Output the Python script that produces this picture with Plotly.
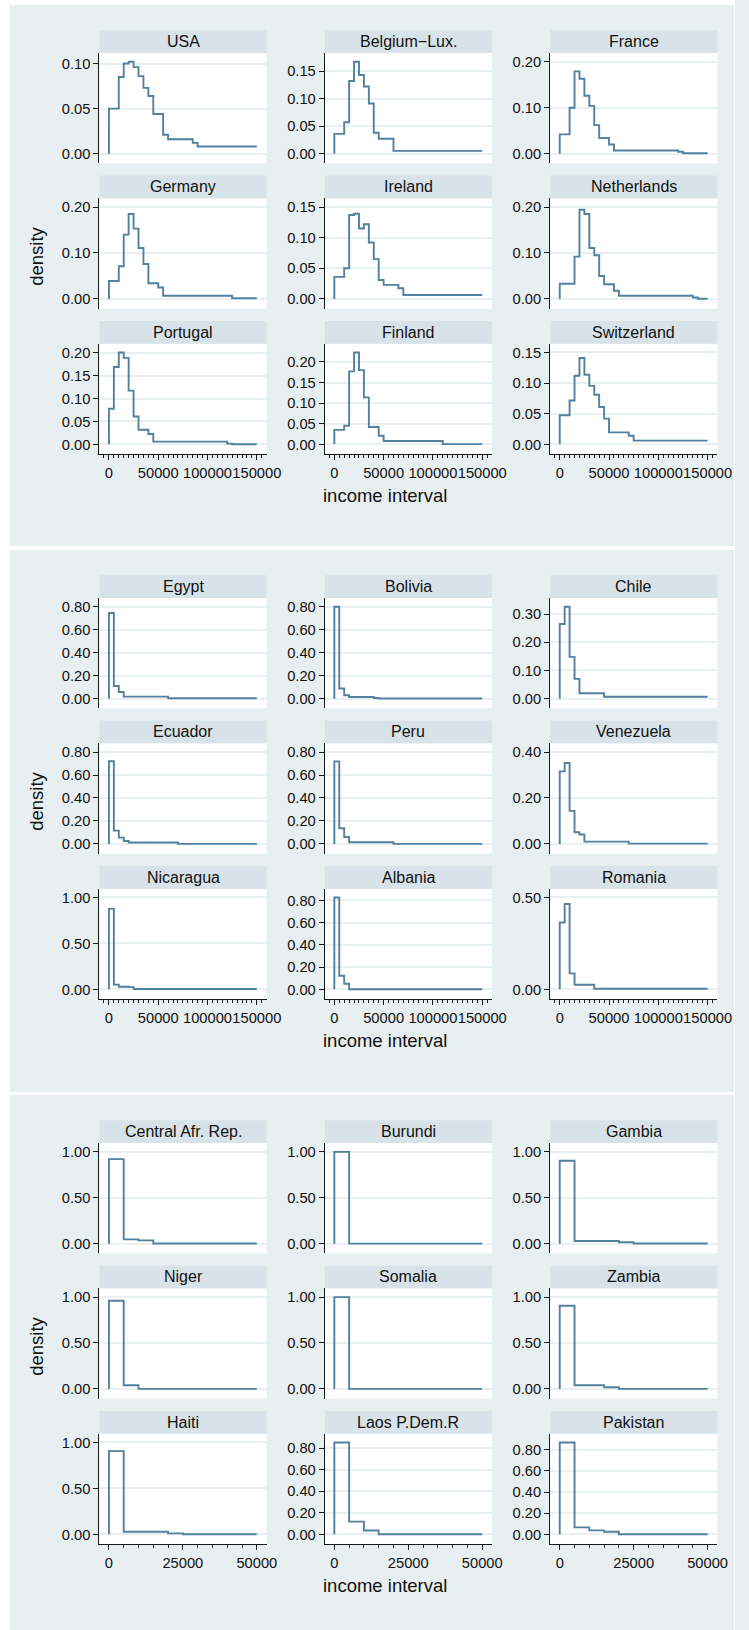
import plotly.graph_objects as go

W, H = 749, 1630

# ---------------- data ----------------
# bin left edges (income interval, width 5000)
edges_wide = [0, 5000, 10000, 15000, 20000, 25000, 30000, 35000, 40000, 45000,
              50000, 55000, 60000, 65000, 70000, 75000, 80000, 85000, 90000, 95000,
              100000, 105000, 110000, 115000, 120000, 125000, 130000, 135000, 140000, 145000]
end_wide = 150000
edges_narrow = [0, 5000, 10000, 15000, 20000, 25000, 30000, 35000, 40000, 45000]
end_narrow = 50000

# Panel 1 (rich countries)
p1_names = ["USA", "Belgium\u2212Lux.", "France", "Germany", "Ireland", "Netherlands",
            "Portugal", "Finland", "Switzerland"]
usa = [0.050, 0.050, 0.085, 0.100, 0.102, 0.096, 0.086, 0.073, 0.064, 0.044, 0.044, 0.021,
       0.016, 0.016, 0.016, 0.016, 0.016, 0.012, 0.008, 0.008, 0.008, 0.008, 0.008, 0.008,
       0.008, 0.008, 0.008, 0.008, 0.008, 0.008]
belgium = [0.036, 0.036, 0.057, 0.132, 0.167, 0.143, 0.122, 0.091, 0.038, 0.027, 0.027, 0.027,
           0.005, 0.005, 0.005, 0.005, 0.005, 0.005, 0.005, 0.005, 0.005, 0.005, 0.005, 0.005,
           0.005, 0.005, 0.005, 0.005, 0.005, 0.005]
france = [0.042, 0.042, 0.100, 0.179, 0.163, 0.126, 0.104, 0.062, 0.034, 0.034, 0.020, 0.007,
          0.007, 0.007, 0.007, 0.007, 0.007, 0.007, 0.007, 0.007, 0.007, 0.007, 0.007, 0.007,
          0.004, 0.001, 0.001, 0.001, 0.001, 0.001]
germany = [0.039, 0.039, 0.071, 0.140, 0.185, 0.153, 0.111, 0.076, 0.034, 0.034, 0.025, 0.007,
           0.007, 0.007, 0.007, 0.007, 0.007, 0.007, 0.007, 0.007, 0.007, 0.007, 0.007, 0.007,
           0.007, 0.0015, 0.0015, 0.0015, 0.0015, 0.0015]
ireland = [0.036, 0.036, 0.050, 0.137, 0.139, 0.115, 0.122, 0.092, 0.065, 0.031, 0.023, 0.023,
           0.023, 0.0175, 0.0065, 0.0065, 0.0065, 0.0065, 0.0065, 0.0065, 0.0065, 0.0065,
           0.0065, 0.0065, 0.0065, 0.0065, 0.0065, 0.0065, 0.0065, 0.0065]
netherlands = [0.033, 0.033, 0.033, 0.092, 0.194, 0.185, 0.111, 0.095, 0.050, 0.032, 0.032,
               0.018, 0.007, 0.007, 0.007, 0.007, 0.007, 0.007, 0.007, 0.007, 0.007, 0.007,
               0.007, 0.007, 0.007, 0.007, 0.007, 0.003, 0.0005, 0.0005]
portugal = [0.078, 0.169, 0.201, 0.189, 0.1175, 0.061, 0.032, 0.032, 0.0226, 0.006, 0.006,
            0.006, 0.006, 0.006, 0.006, 0.006, 0.006, 0.006, 0.006, 0.006, 0.006, 0.006, 0.006,
            0.006, 0.0015, 0.0003, 0.0003, 0.0003, 0.0003, 0.0003]
finland = [0.035, 0.035, 0.045, 0.177, 0.223, 0.180, 0.114, 0.042, 0.042, 0.021, 0.008, 0.008,
           0.008, 0.008, 0.008, 0.008, 0.008, 0.008, 0.008, 0.008, 0.008, 0.008, 0.0005, 0.0005,
           0.0005, 0.0005, 0.0005, 0.0005, 0.0005, 0.0005]
switzerland = [0.0475, 0.0475, 0.0715, 0.112, 0.141, 0.1135, 0.0955, 0.081, 0.061, 0.042,
               0.0196, 0.0196, 0.0196, 0.0196, 0.014, 0.006, 0.006, 0.006, 0.006, 0.006, 0.006,
               0.006, 0.006, 0.006, 0.006, 0.006, 0.006, 0.006, 0.006, 0.006]
p1_values = [usa, belgium, france, germany, ireland, netherlands, portugal, finland, switzerland]
p1_ticks = [[0.00, 0.05, 0.10], [0.00, 0.05, 0.10, 0.15], [0.00, 0.10, 0.20],
            [0.00, 0.10, 0.20], [0.00, 0.05, 0.10, 0.15], [0.00, 0.10, 0.20],
            [0.00, 0.05, 0.10, 0.15, 0.20], [0.00, 0.05, 0.10, 0.15, 0.20],
            [0.00, 0.05, 0.10, 0.15]]

# Panel 2 (middle income)
p2_names = ["Egypt", "Bolivia", "Chile", "Ecuador", "Peru", "Venezuela",
            "Nicaragua", "Albania", "Romania"]
egypt = [0.745, 0.110, 0.058, 0.0175, 0.0175, 0.0175, 0.0175, 0.0175, 0.0175, 0.0175, 0.0175,
         0.0175, 0.003, 0.003, 0.003, 0.003, 0.003, 0.003, 0.003, 0.003, 0.003, 0.003, 0.003,
         0.003, 0.003, 0.003, 0.003, 0.003, 0.003, 0.003]
bolivia = [0.800, 0.088, 0.029, 0.015, 0.015, 0.015, 0.015, 0.015, 0.006, 0.001, 0.001, 0.001,
           0.001, 0.001, 0.001, 0.001, 0.001, 0.001, 0.001, 0.001, 0.001, 0.001, 0.001, 0.001,
           0.001, 0.001, 0.001, 0.001, 0.001, 0.001]
chile = [0.265, 0.326, 0.148, 0.070, 0.019, 0.019, 0.019, 0.019, 0.019, 0.007, 0.007, 0.007,
         0.007, 0.007, 0.007, 0.007, 0.007, 0.007, 0.007, 0.007, 0.007, 0.007, 0.007, 0.007,
         0.007, 0.007, 0.007, 0.007, 0.007, 0.007]
ecuador = [0.720, 0.116, 0.055, 0.026, 0.012, 0.012, 0.012, 0.012, 0.012, 0.012, 0.012, 0.012,
           0.012, 0.012, 0.001, 0.001, 0.001, 0.001, 0.001, 0.001, 0.001, 0.001, 0.001, 0.001,
           0.001, 0.001, 0.001, 0.001, 0.001, 0.001]
peru = [0.719, 0.137, 0.061, 0.015, 0.015, 0.015, 0.015, 0.015, 0.015, 0.015, 0.015, 0.015,
        0.001, 0.001, 0.001, 0.001, 0.001, 0.001, 0.001, 0.001, 0.001, 0.001, 0.001, 0.001,
        0.001, 0.001, 0.001, 0.001, 0.001, 0.001]
venezuela = [0.316, 0.352, 0.144, 0.051, 0.041, 0.010, 0.010, 0.010, 0.010, 0.010, 0.010,
             0.010, 0.010, 0.010, 0.0015, 0.0015, 0.0015, 0.0015, 0.0015, 0.0015, 0.0015,
             0.0015, 0.0015, 0.0015, 0.0015, 0.0015, 0.0015, 0.0015, 0.0015, 0.0015]
nicaragua = [0.876, 0.051, 0.029, 0.029, 0.024, 0.003, 0.003, 0.003, 0.003, 0.003, 0.003,
             0.003, 0.003, 0.003, 0.003, 0.003, 0.003, 0.003, 0.003, 0.003, 0.003, 0.003,
             0.003, 0.003, 0.003, 0.003, 0.003, 0.003, 0.003, 0.003]
albania = [0.827, 0.123, 0.051, 0.001, 0.001, 0.001, 0.001, 0.001, 0.001, 0.001, 0.001, 0.001,
           0.001, 0.001, 0.001, 0.001, 0.001, 0.001, 0.001, 0.001, 0.001, 0.001, 0.001, 0.001,
           0.001, 0.001, 0.001, 0.001, 0.001, 0.001]
romania = [0.364, 0.464, 0.087, 0.025, 0.025, 0.025, 0.025, 0.003, 0.003, 0.003, 0.003, 0.003,
           0.003, 0.003, 0.003, 0.003, 0.003, 0.003, 0.003, 0.003, 0.003, 0.003, 0.003, 0.003,
           0.003, 0.003, 0.003, 0.003, 0.003, 0.003]
p2_values = [egypt, bolivia, chile, ecuador, peru, venezuela, nicaragua, albania, romania]
t08 = [0.00, 0.20, 0.40, 0.60, 0.80]
p2_ticks = [t08, t08, [0.00, 0.10, 0.20, 0.30], t08, t08, [0.00, 0.20, 0.40],
            [0.00, 0.50, 1.00], t08, [0.00, 0.50]]

# Panel 3 (poor countries)
p3_names = ["Central Afr. Rep.", "Burundi", "Gambia", "Niger", "Somalia", "Zambia",
            "Haiti", "Laos P.Dem.R", "Pakistan"]
car = [0.920, 0.047, 0.036, 0.0015, 0.0015, 0.0015, 0.0015, 0.0015, 0.0015, 0.0015]
burundi = [0.998, 0.0005, 0.0005, 0.0005, 0.0005, 0.0005, 0.0005, 0.0005, 0.0005, 0.0005]
gambia = [0.902, 0.029, 0.029, 0.029, 0.0145, 0.001, 0.001, 0.001, 0.001, 0.001]
niger = [0.960, 0.040, 0.001, 0.001, 0.001, 0.001, 0.001, 0.001, 0.001, 0.001]
somalia = [0.999, 0.0005, 0.0005, 0.0005, 0.0005, 0.0005, 0.0005, 0.0005, 0.0005, 0.0005]
zambia = [0.905, 0.040, 0.040, 0.018, 0.001, 0.001, 0.001, 0.001, 0.001, 0.001]
haiti = [0.905, 0.029, 0.029, 0.029, 0.011, 0.001, 0.001, 0.001, 0.001, 0.001]
laos = [0.853, 0.118, 0.036, 0.001, 0.001, 0.001, 0.001, 0.001, 0.001, 0.001]
pakistan = [0.869, 0.066, 0.038, 0.025, 0.001, 0.001, 0.001, 0.001, 0.001, 0.001]
p3_values = [car, burundi, gambia, niger, somalia, zambia, haiti, laos, pakistan]
t10 = [0.00, 0.50, 1.00]
p3_ticks = [t10, t10, t10, t10, t10, t10, t10, t08, t08]

xticks_wide = [0, 50000, 100000, 150000]
xticks_narrow = [0, 25000, 50000]

# ---------------- styling / geometry ----------------
PANEL_BG = "#e8eff1"
STRIP_BG = "#d8e3e9"
LINE_C = "#52809f"
GRID_C = "#e9f0f2"
AXIS_C = "#1a1a1a"
FONT = "Liberation Sans, Arial, Helvetica, sans-serif"
TICK_FS = 14.7
STRIP_FS = 16
TITLE_FS = 18.5

col_x0 = [101.3, 331.0, 560.7]
col_w = 170.4
row_top = [53.0, 198.3, 343.7]
plot_h = 110.3
strip_h = 22.7
panel_off = [0.0, 545.0, 1090.0]

fig = go.Figure()
layout = {}
shapes = []
annotations = []

# white page around / between panels
shapes.append(dict(type="rect", xref="paper", yref="paper", x0=0, x1=1,
                   y0=1 - 5.0 / H, y1=1, fillcolor="white", line_width=0, layer="below"))
shapes.append(dict(type="rect", xref="paper", yref="paper", x0=0, x1=10.0 / W,
                   y0=0, y1=1, fillcolor="white", line_width=0, layer="below"))
shapes.append(dict(type="rect", xref="paper", yref="paper", x0=748.3 / W, x1=1,
                   y0=0, y1=1, fillcolor="white", line_width=0, layer="below"))
for a, b in [(546.0, 550.0), (1092.3, 1095.0)]:
    shapes.append(dict(type="rect", xref="paper", yref="paper", x0=0, x1=1,
                       y0=1 - b / H, y1=1 - a / H, fillcolor="white", line_width=0,
                       layer="below"))

panels = [
    (p1_names, p1_values, p1_ticks, edges_wide, end_wide, xticks_wide),
    (p2_names, p2_values, p2_ticks, edges_wide, end_wide, xticks_wide),
    (p3_names, p3_values, p3_ticks, edges_narrow, end_narrow, xticks_narrow),
]

k = 0
for p, (names, values, ticks, edges, xend, xticks) in enumerate(panels):
    off = panel_off[p]
    for i in range(9):
        r, c = divmod(i, 3)
        k += 1
        xa = "xaxis" if k == 1 else f"xaxis{k}"
        ya = "yaxis" if k == 1 else f"yaxis{k}"
        xr = "x" if k == 1 else f"x{k}"
        yr = "y" if k == 1 else f"y{k}"
        vals = values[i]
        xs = [0] + list(edges) + [xend]
        ys = [0] + list(vals) + [vals[-1]]
        fig.add_trace(go.Scatter(x=xs, y=ys, mode="lines", line_shape="hv",
                                 line=dict(color=LINE_C, width=1.9),
                                 xaxis=xr, yaxis=yr, hoverinfo="skip"))
        top = row_top[r] + off
        x0 = col_x0[c]
        hi = max(max(vals), ticks[i][-1])
        bottom_row = (r == 2)
        layout[xa] = dict(
            domain=[x0 / W, (x0 + col_w) / W], anchor=yr,
            range=[-0.0644 * xend, 1.0664 * xend],
            showgrid=False, zeroline=False,
            showline=bottom_row, linecolor=AXIS_C, linewidth=1.2,
            ticks="outside" if bottom_row else "", ticklen=5, tickwidth=1.2,
            tickcolor=AXIS_C,
            tickvals=xticks, tickformat="d", tickangle=0,
            showticklabels=bottom_row,
            tickfont=dict(size=TICK_FS, color="#111", family=FONT),
            minor=dict(dtick=5000, tick0=0, ticks="outside" if bottom_row else "",
                       ticklen=3, tickwidth=1, tickcolor=AXIS_C, showgrid=False),
            fixedrange=True,
        )
        layout[ya] = dict(
            domain=[1 - (top + plot_h) / H, 1 - top / H], anchor=xr,
            range=[-0.105 * hi, 1.095 * hi],
            showgrid=True, gridcolor=GRID_C, gridwidth=1.6, zeroline=False,
            showline=True, linecolor=AXIS_C, linewidth=1.2,
            ticks="outside", ticklen=5, tickwidth=1.2, tickcolor=AXIS_C,
            tickvals=ticks[i], tickformat=".2f",
            tickfont=dict(size=TICK_FS, color="#111", family=FONT),
            fixedrange=True,
        )
        # strip
        st = top - strip_h
        shapes.append(dict(type="rect", xref="paper", yref="paper",
                           x0=x0 / W, x1=(x0 + col_w) / W,
                           y0=1 - top / H, y1=1 - st / H,
                           fillcolor=STRIP_BG, line_width=0, layer="below"))
        annotations.append(dict(text=names[i], xref="paper", yref="paper",
                                x=(x0 + col_w / 2) / W, y=1 - (st + strip_h / 2) / H,
                                xanchor="center", yanchor="middle", showarrow=False,
                                font=dict(size=STRIP_FS, color="#111", family=FONT)))
    # axis titles
    annotations.append(dict(text="density", xref="paper", yref="paper",
                            x=37.0 / W, y=1 - (256.5 + off) / H, textangle=-90,
                            xanchor="center", yanchor="middle", showarrow=False,
                            font=dict(size=TITLE_FS, color="#111", family=FONT)))
    annotations.append(dict(text="income interval", xref="paper", yref="paper",
                            x=392.5 / W, y=1 - (495.0 + off) / H,
                            xanchor="center", yanchor="middle", showarrow=False,
                            font=dict(size=TITLE_FS, color="#111", family=FONT)))

fig.update_layout(
    width=W, height=H, margin=dict(l=0, r=0, t=0, b=0, pad=0),
    paper_bgcolor=PANEL_BG, plot_bgcolor="white",
    showlegend=False, shapes=shapes, annotations=annotations,
    font=dict(family=FONT, size=14, color="#111"),
    **layout,
)

fig.write_html("out.html", config={"displayModeBar": False},
               post_script="document.body.style.margin='0px';")
